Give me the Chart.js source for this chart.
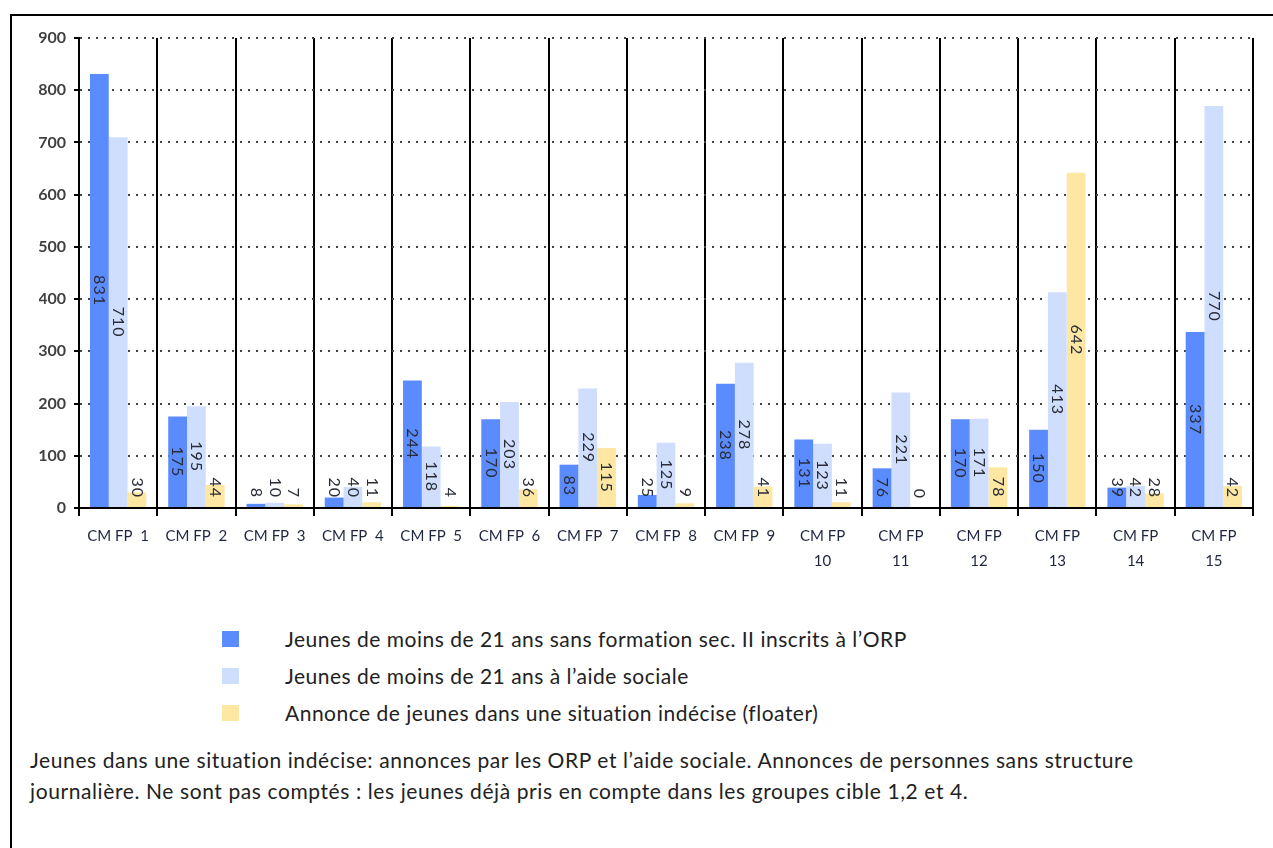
<!DOCTYPE html>
<html>
<head>
<meta charset="utf-8">
<script src="https://cdn.jsdelivr.net/npm/chart.js@4.4.1/dist/chart.umd.min.js"></script>
<style>
  body { margin: 0; background: #fff; font-family: Lato, "Open Sans", sans-serif; }
  #frame { position: absolute; left: 10px; top: 14px; width: 1300px; height: 900px;
           border-left: 2px solid #000; border-top: 2px solid #000; }
  #wrap { position: absolute; left: 0; top: 0; width: 1273px; height: 578px; }
  #legend { position: absolute; left: 222px; top: 620px; font-size: 21px; letter-spacing: 0.5px; color: #222; }
  .row { height: 37px; display: flex; align-items: center; }
  .sw { width: 17px; height: 16px; margin-right: 46px; }
  #note { position: absolute; left: 30px; top: 744px; font-size: 21px; letter-spacing: 0.6px; line-height: 31px; color: #222; }
</style>
</head>
<body>
<div id="frame"></div>
<div id="wrap"><canvas id="chart" width="1273" height="578"></canvas></div>
<div id="legend"></div>
<div id="note">Jeunes dans une situation indécise: annonces par les ORP et l’aide sociale. Annonces de personnes sans structure<br>journalière. Ne sont pas comptés : les jeunes déjà pris en compte dans les groupes cible 1,2 et 4.</div>
<script>
const categories = [
  'CM FP  1', 'CM FP  2', 'CM FP  3', 'CM FP  4', 'CM FP  5', 'CM FP  6', 'CM FP  7', 'CM FP  8', 'CM FP  9',
  ['CM FP', '10'], ['CM FP', '11'], ['CM FP', '12'], ['CM FP', '13'], ['CM FP', '14'], ['CM FP', '15']
];
const orpValues = [831, 175, 8, 20, 244, 170, 83, 25, 238, 131, 76, 170, 150, 39, 337];
const socialValues = [710, 195, 10, 40, 118, 203, 229, 125, 278, 123, 221, 171, 413, 42, 770];
const floaterValues = [30, 44, 7, 11, 4, 36, 115, 9, 41, 11, 0, 78, 642, 28, 42];
const seriesNames = [
  'Jeunes de moins de 21 ans sans formation sec. II inscrits à l’ORP',
  'Jeunes de moins de 21 ans à l’aide sociale',
  'Annonce de jeunes dans une situation indécise (floater)'
];
const colors = ['#5b8cff', '#d0defe', '#fde7a2'];
const yTicks = [0, 100, 200, 300, 400, 500, 600, 700, 800, 900];

// legend below the chart
const legend = document.getElementById('legend');
seriesNames.forEach((name, i) => {
  const row = document.createElement('div');
  row.className = 'row';
  row.innerHTML = '<div class="sw" style="background:' + colors[i] + '"></div><span>' + name + '</span>';
  legend.appendChild(row);
});

// rotated value labels inside the bars
const barLabels = {
  id: 'barLabels',
  afterDatasetsDraw(chart) {
    const ctx = chart.ctx;
    ctx.save();
    ctx.font = '16px Lato, sans-serif';
    ctx.letterSpacing = '1px';
    ctx.fillStyle = '#2a2d38';
    ctx.textAlign = 'center';
    ctx.textBaseline = 'middle';
    chart.data.datasets.forEach((ds, di) => {
      const meta = chart.getDatasetMeta(di);
      meta.data.forEach((bar, i) => {
        const txt = String(ds.data[i]);
        const tw = ctx.measureText(txt).width;
        const cy = Math.min((bar.y + bar.base) / 2, bar.base - tw / 2 - 9);
        ctx.save();
        ctx.translate(bar.x, cy);
        ctx.rotate(Math.PI / 2);
        ctx.fillText(txt, 0, 0);
        ctx.restore();
      });
    });
    ctx.restore();
  }
};

new Chart(document.getElementById('chart'), {
  type: 'bar',
  data: {
    labels: categories,
    datasets: [
      { label: seriesNames[0], data: orpValues, backgroundColor: colors[0] },
      { label: seriesNames[1], data: socialValues, backgroundColor: colors[1] },
      { label: seriesNames[2], data: floaterValues, backgroundColor: colors[2] }
    ]
  },
  options: {
    responsive: false,
    animation: false,
    events: [],
    layout: { padding: { left: 39, right: 20, top: 38, bottom: 0 } },
    datasets: { bar: { categoryPercentage: 0.72, barPercentage: 1.0 } },
    plugins: { legend: { display: false }, tooltip: { enabled: false } },
    scales: {
      x: {
        offset: true,
        grid: { offset: true, color: '#000', lineWidth: 2, tickLength: 8, drawOnChartArea: true },
        border: { color: '#000', width: 2 },
        ticks: { color: '#1f2740', font: { size: 15, family: 'Lato, sans-serif', lineHeight: 1.65 }, padding: 8, maxRotation: 0, autoSkip: false },
        afterFit: s => { s.height = 70; }
      },
      y: {
        min: 0, max: 900,
        afterBuildTicks: s => { s.ticks = yTicks.map(v => ({ value: v })); },
        grid: {
          color: ctx => ctx.tick && ctx.tick.value === 0 ? '#000' : '#444',
          lineWidth: 2, tickLength: 5, tickColor: '#000'
        },
        border: { color: '#000', width: 2, dash: [2, 6] },
        ticks: { color: '#404040', font: { size: 16, weight: 'bold', family: 'Lato, sans-serif' }, padding: 8 },
        afterFit: s => { s.width = 40; }
      }
    }
  },
  plugins: [barLabels]
});
</script>
</body>
</html>
